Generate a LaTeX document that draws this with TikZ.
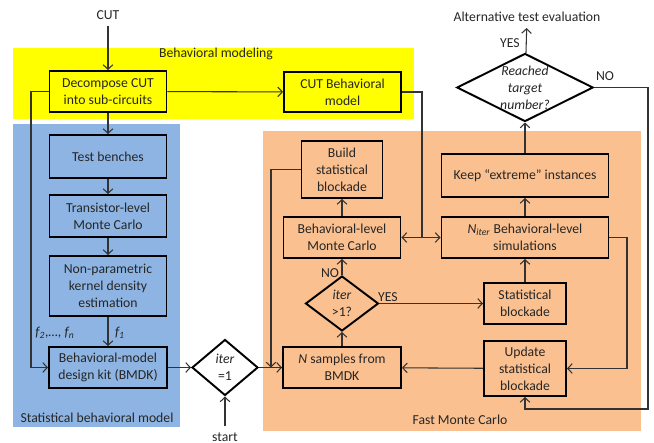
\documentclass[tikz,border=0pt]{standalone}
\usepackage{fontspec}
\setmainfont{Carlito}
\usetikzlibrary{arrows.meta,shapes.geometric}
\definecolor{bmyellow}{RGB}{255,255,0}
\definecolor{sbmblue}{RGB}{141,180,226}
\definecolor{fmcorange}{RGB}{250,192,144}

\begin{document}
\begin{tikzpicture}[x=0.02cm,y=-0.02cm,
    >={Straight Barb[length=2.6pt,width=5.5pt]},
    every node/.style={font=\fontsize{7.8}{9.6}\selectfont, text=black!85},
    blockbox/.style={rectangle, draw=black, line width=1.1pt, align=center, inner sep=1pt},
    decision/.style={diamond, draw=black, line width=1.1pt, fill=white, align=center, inner sep=0pt},
    conn/.style={draw=black!80, line width=0.6pt}
    ]
    \useasboundingbox (0,0) rectangle (654,443);
    \fill[bmyellow] (13,48) rectangle (414,119);
    \fill[sbmblue] (13,124) rectangle (180,427);
    \fill[fmcorange] (263,131) rectangle (641,431);

    \node (lbm) at (216,54) {Behavioral modeling};
    \node (lsbm) at (97,418) {Statistical behavioral model};
    \node (lfmc) at (460,420) {Fast Monte Carlo};

    \node (cut) at (108,15) {CUT};
    \node [blockbox,fill=bmyellow,minimum width=2.34cm,minimum height=0.82cm] (dec) at (108,91.5) {Decompose CUT\\into sub-circuits};
    \node [blockbox,fill=bmyellow,minimum width=2.34cm,minimum height=0.80cm] (cutbm) at (342.5,92) {CUT Behavioral\\model};

    \node [blockbox,fill=sbmblue,minimum width=2.34cm,minimum height=0.86cm] (tb) at (108,156.5) {Test benches};
    \node [blockbox,fill=sbmblue,minimum width=2.34cm,minimum height=0.84cm] (tlmc) at (108,216) {Transistor-level\\Monte Carlo};
    \node [blockbox,fill=sbmblue,minimum width=2.34cm,minimum height=1.20cm] (kde) at (108,286) {Non-parametric\\kernel density\\estimation};
    \node [blockbox,fill=sbmblue,minimum width=2.36cm,minimum height=0.82cm] (bmdk) at (108,367.5) {Behavioral-model\\design kit (BMDK)};
    \node (f2n) at (55,333) {\textit{f\textsubscript{2},…, f\textsubscript{n}}};
    \node (f1) at (120,333) {\textit{f\textsubscript{1}}};

    \node [decision,minimum width=1.32cm,minimum height=1.12cm,aspect=1.2] (it1) at (225,367.5) {\textit{iter}\\=1};
    \node (start) at (225,437) {start};

    \node [blockbox,fill=fmcorange,minimum width=2.36cm,minimum height=0.82cm] (nsam) at (342,367.5) {\textit{N} samples from\\BMDK};
    \node [decision,fill=fmcorange,minimum width=1.46cm,minimum height=1.10cm,aspect=1.3] (itg1) at (342,303.5) {\textit{iter}\\>1?};
    \node (no1) at (330,273) {NO};
    \node (yes1) at (388,297) {YES};
    \node [blockbox,fill=fmcorange,minimum width=2.34cm,minimum height=0.82cm] (blmc) at (342,237.5) {Behavioral-level\\Monte Carlo};
    \node [blockbox,fill=fmcorange,minimum width=1.62cm,minimum height=1.14cm] (bsb) at (342,169.5) {Build\\statistical\\blockade};

    \node [blockbox,fill=fmcorange,minimum width=1.64cm,minimum height=0.82cm] (sb) at (525,303.5) {Statistical\\blockade};
    \node [blockbox,fill=fmcorange,minimum width=1.64cm,minimum height=1.10cm] (usb) at (525,368.5) {Update\\statistical\\blockade};
    \node [blockbox,fill=fmcorange,minimum width=3.34cm,minimum height=0.82cm] (nit) at (525,237.5) {\textit{N\textsubscript{iter}} Behavioral-level\\simulations};
    \node [blockbox,fill=fmcorange,minimum width=3.34cm,minimum height=0.86cm] (keep) at (525,175.5) {Keep “extreme” instances};

    \node [decision,minimum width=2.68cm,minimum height=1.26cm,aspect=2] (reach) at (525,87.5) {\textit{Reached}\\\textit{target}\\\textit{number?}};
    \node (yes2) at (510,43) {YES};
    \node (no2) at (605,76) {NO};
    \node (alt) at (527,17) {Alternative test evaluation};

    \coordinate (dl) at (31,367.5);
    \coordinate (bl) at (271,367.5);
    \coordinate (cj) at (422,237.5);
    \coordinate (nr) at (627,368.5);
    \coordinate (rr) at (648,409);

    \draw[conn,->] (cut) -- (dec);
    \draw[conn,->] (dec) -- (cutbm);
    \draw[conn,->] (dec) -- (tb);
    \draw[conn,->] (tb) -- (tlmc);
    \draw[conn,->] (tlmc) -- (kde);
    \draw[conn,->] (kde) -- (bmdk);
    \draw[conn,->] (dec.west) -| (dl) -- (bmdk.west);
    \draw[conn,->] (bmdk) -- (it1);
    \draw[conn,->] (start) -- (it1);
    \draw[conn,->] (it1) -- (nsam);
    \draw[conn,->] (bsb.west) -| (bl);
    \draw[conn,->] (nsam) -- (itg1);
    \draw[conn,->] (itg1) -- (blmc);
    \draw[conn,->] (blmc) -- (bsb);
    \draw[conn,->] (itg1) -- (sb);
    \draw[conn,->] (sb) -- (nit);
    \draw[conn,->] (nit) -- (keep);
    \draw[conn,->] (keep) -- (reach);
    \draw[conn,->] (reach) -- (alt);
    \draw[conn,->] (usb) -- (nsam);
    \draw[conn,->] (nit.east) -| (nr) -- (usb.east);
    \draw[conn,->] (reach.east) -| (rr) -| (usb.south);
    \draw[conn,->] (cutbm.east) -| (cj) -- (blmc.east);
    \draw[conn,->] (cj) -- (nit.west);
\end{tikzpicture}
\end{document}
